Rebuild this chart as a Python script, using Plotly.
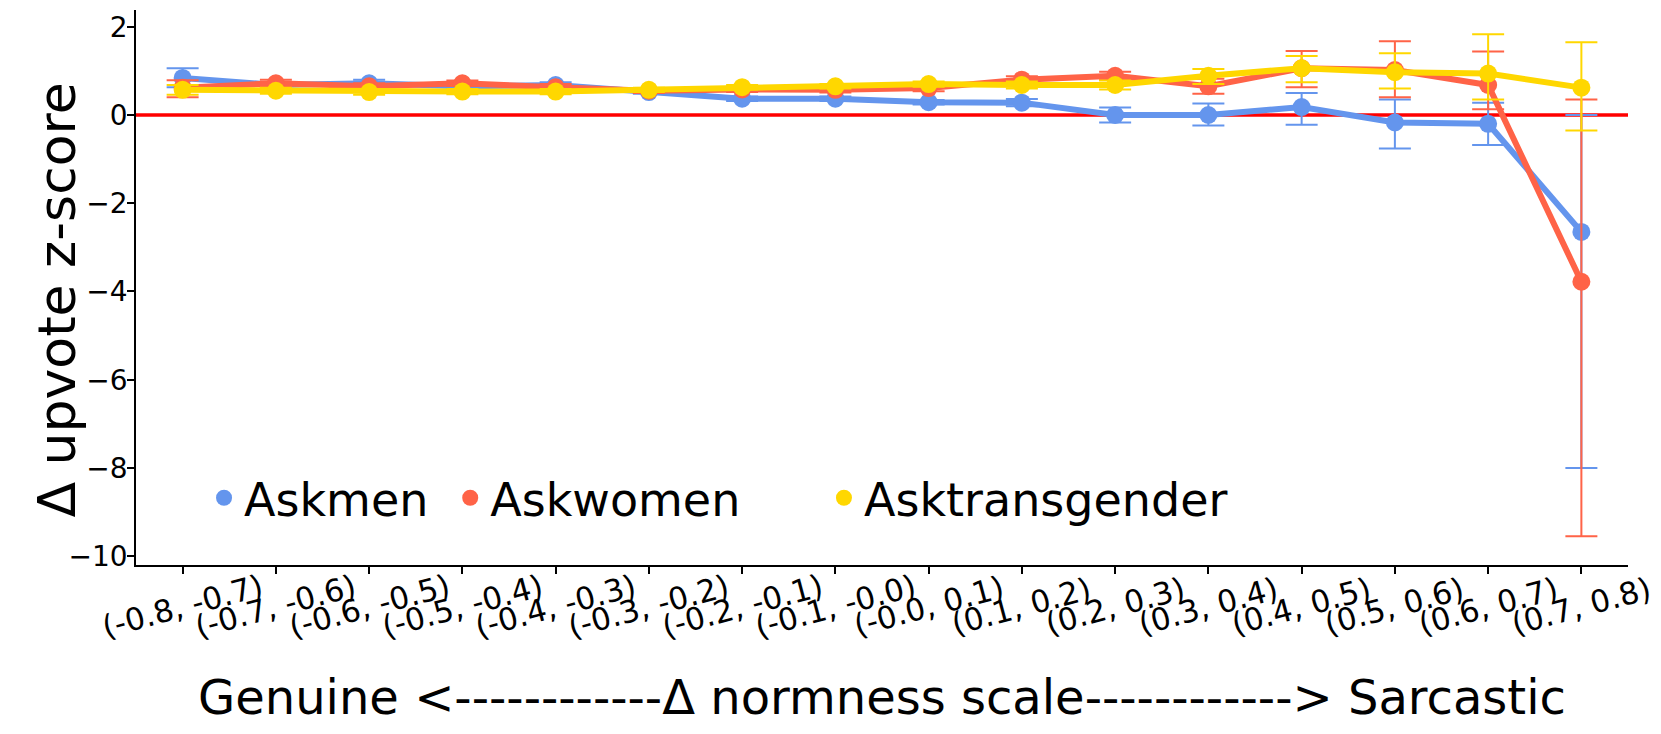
import plotly.graph_objects as go

categories = ["(-0.8, -0.7)", "(-0.7, -0.6)", "(-0.6, -0.5)", "(-0.5, -0.4)", "(-0.4, -0.3)",
              "(-0.3, -0.2)", "(-0.2, -0.1)", "(-0.1, -0.0)", "(-0.0, 0.1)", "(0.1, 0.2)",
              "(0.2, 0.3)", "(0.3, 0.4)", "(0.4, 0.5)", "(0.5, 0.6)", "(0.6, 0.7)", "(0.7, 0.8)"]

askmen = [0.84, 0.68, 0.72, 0.65, 0.68, 0.52, 0.37, 0.37, 0.29, 0.28, 0.0, 0.0, 0.18, -0.17, -0.20, -2.65]
askmen_hi = [1.06, 0.74, 0.80, 0.70, 0.74, 0.56, 0.42, 0.42, 0.34, 0.36, 0.17, 0.26, 0.50, 0.35, 0.28, 0.0]
askmen_lo = [0.63, 0.62, 0.64, 0.60, 0.62, 0.48, 0.32, 0.32, 0.24, 0.20, -0.17, -0.24, -0.22, -0.76, -0.68, -8.0]

askwomen = [0.62, 0.72, 0.65, 0.72, 0.63, 0.55, 0.58, 0.57, 0.61, 0.80, 0.89, 0.65, 1.06, 1.02, 0.68, -3.78]
askwomen_hi = [0.79, 0.80, 0.72, 0.78, 0.70, 0.60, 0.64, 0.63, 0.68, 0.88, 0.98, 0.82, 1.45, 1.67, 1.44, 0.35]
askwomen_lo = [0.40, 0.64, 0.58, 0.66, 0.56, 0.50, 0.52, 0.51, 0.54, 0.72, 0.80, 0.48, 0.63, 0.40, 0.13, -9.55]

asktrans = [0.57, 0.55, 0.52, 0.53, 0.53, 0.57, 0.63, 0.65, 0.70, 0.68, 0.68, 0.89, 1.06, 0.97, 0.94, 0.62]
asktrans_hi = [0.68, 0.62, 0.58, 0.59, 0.59, 0.62, 0.68, 0.70, 0.76, 0.76, 0.78, 1.04, 1.34, 1.40, 1.83, 1.65]
asktrans_lo = [0.46, 0.48, 0.46, 0.47, 0.47, 0.52, 0.58, 0.60, 0.64, 0.60, 0.58, 0.70, 0.74, 0.60, 0.35, -0.35]

y_ticks = [2, 0, -2, -4, -6, -8, -10]
x_title = "Genuine <------------Δ normness scale------------> Sarcastic"
y_title = "Δ upvote z-score"

series = [
    ("Askmen", askmen, askmen_hi, askmen_lo, "#6495ED"),
    ("Askwomen", askwomen, askwomen_hi, askwomen_lo, "#FF6347"),
    ("Asktransgender", asktrans, asktrans_hi, asktrans_lo, "#FFD700"),
]

FONT = "DejaVu Sans"
TICK_SIZE = 31
fig = go.Figure()

xs = list(range(len(categories)))
for name, vals, hi, lo, col in series:
    fig.add_trace(go.Scatter(
        x=xs, y=vals, mode="lines+markers", name=name, showlegend=False,
        line=dict(color=col, width=6),
        marker=dict(color=col, size=18),
        error_y=dict(type="data", symmetric=False,
                     array=[h - v for h, v in zip(hi, vals)],
                     arrayminus=[v - l for l, v in zip(lo, vals)],
                     color=col, thickness=2, width=16),
    ))

legend_ids = ["legend", "legend2", "legend3"]
for (name, vals, hi, lo, col), lid in zip(series, legend_ids):
    fig.add_trace(go.Scatter(
        x=[None], y=[None], mode="markers", name=name, showlegend=True, legend=lid,
        marker=dict(color=col, size=18),
    ))

fig.add_shape(type="line", xref="paper", x0=0, x1=1, yref="y", y0=0, y1=0,
              line=dict(color="red", width=3.5), layer="below")

annotations = []
for i, lab in enumerate(categories):
    annotations.append(dict(x=i, xref="x", y=0, yref="paper", text=lab, showarrow=False,
                            textangle=-15, xanchor="center", yanchor="middle", yshift=-41,
                            font=dict(size=TICK_SIZE, family=FONT, color="black")))
annotations.append(dict(x=0.5, xref="paper", y=0, yref="paper", text=x_title, showarrow=False,
                        xanchor="center", yanchor="middle", yshift=-132,
                        font=dict(size=48, family=FONT, color="black")))
annotations.append(dict(x=0, xref="paper", y=0.5, yref="paper", text=y_title, showarrow=False,
                        textangle=-90, xanchor="center", yanchor="middle", xshift=-80, yshift=-13,
                        font=dict(size=52, family=FONT, color="black")))

leg_common = dict(orientation="h", y=0.121, xanchor="left", yanchor="middle",
                  font=dict(size=46, family=FONT, color="black"), bgcolor="rgba(0,0,0,0)",
                  itemsizing="trace", itemwidth=30)

fig.update_layout(
    width=1661, height=734,
    margin=dict(l=136, r=33, t=10, b=169, autoexpand=False),
    plot_bgcolor="white", paper_bgcolor="white",
    font=dict(family=FONT, color="black"),
    showlegend=True,
    annotations=annotations,
    legend=dict(x=0.0456, **leg_common),
    legend2=dict(x=0.2106, **leg_common),
    legend3=dict(x=0.4611, **leg_common),
    xaxis=dict(
        range=[-0.5, 15.5], tickmode="array", tickvals=xs, showticklabels=False,
        showline=True, linecolor="black", linewidth=1.5, mirror=False, automargin=False,
        ticks="outside", ticklen=7, tickwidth=1.5, tickcolor="black", showgrid=False, zeroline=False,
    ),
    yaxis=dict(
        range=[-10.2, 2.38], tickmode="array", tickvals=y_ticks,
        tickfont=dict(size=28, family=FONT), automargin=False, ticklabelstandoff=-6,
        showline=True, linecolor="black", linewidth=1.5, mirror=False,
        ticks="outside", ticklen=7, tickwidth=1.5, tickcolor="black", showgrid=False, zeroline=False,
    ),
)

fig.write_html("out.html", config={"displayModeBar": False},
               post_script="document.body.style.margin='0';")
